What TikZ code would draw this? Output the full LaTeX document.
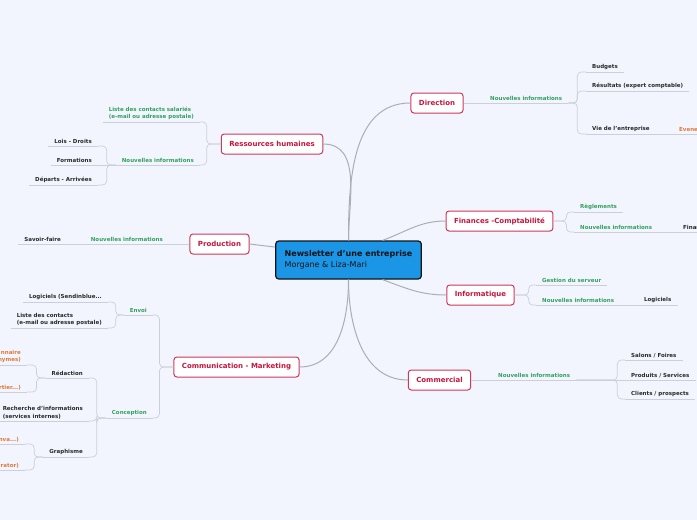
\documentclass[tikz,border=0pt]{standalone}
\usepackage{fontspec}
\setmainfont{DejaVu Sans}
\definecolor{Paper}{HTML}{F2F5FD}
\definecolor{HubBlue}{HTML}{1B95E5}
\definecolor{Ink}{HTML}{141414}
\definecolor{Crimson}{HTML}{C8143C}
\definecolor{LeafInk}{HTML}{2A2A2A}
\definecolor{Sage}{HTML}{34A060}
\definecolor{Amber}{HTML}{DE7A3A}
\definecolor{Spoke}{HTML}{ADADB6}
\definecolor{Twig}{HTML}{CDCFD8}
\tikzset{
  hub/.style={
    rounded corners=3pt, draw=Ink, line width=1.2pt, fill=HubBlue,
    text=Ink, align=left, inner xsep=9pt, minimum height=38pt,
    font=\fontsize{8}{11}\selectfont
  },
  branch/.style={
    rounded corners=3pt, draw=Crimson!85, line width=1pt, fill=white,
    text=Crimson, minimum height=20pt, inner xsep=8pt,
    font=\fontsize{7}{8}\selectfont\bfseries
  },
  twiglabel/.style={inner xsep=6pt, inner ysep=2pt,
    font=\fontsize{5.5}{7.5}\selectfont\bfseries},
  topic/.style={twiglabel, text=Sage},
  leaf/.style={twiglabel, text=LeafInk},
  aside/.style={twiglabel, text=Amber},
  spoke/.style={draw=Spoke, line width=1pt},
  twig/.style={draw=Twig, line width=0.7pt, rounded corners=4pt}
}

\begin{document}
\begin{tikzpicture}[x=1pt,y=-1pt]
    \path[use as bounding box] (0,0) rectangle (697,520);
    \clip (0,0) rectangle (697,520);
    \fill[Paper] (0,0) rectangle (697,520);

    \node[hub] (nl) at (348.5,260) {\textbf{Newsletter d'une entreprise}\\Morgane \& Liza-Mari};

    % right side
    \node[branch] (dir) at (437,103) {Direction};
    \node[topic,anchor=south west] (dirni) at (484,103) {Nouvelles informations};
    \node[leaf,anchor=south west] (budgets) at (586,72) {Budgets};
    \node[leaf,anchor=south west] (resultats) at (586,91) {Résultats (expert comptable)};
    \node[leaf,anchor=south west] (vie) at (586,134) {Vie de l'entreprise};
    \node[aside,anchor=south west] (evene) at (673,134) {Evene};

    \node[branch] (fin) at (499.5,221) {Finances -Comptabilité};
    \node[topic,anchor=south west] (regl) at (574,212) {Règlements};
    \node[topic,anchor=south west] (finni) at (574,232) {Nouvelles informations};
    \node[leaf,anchor=south west] (finan) at (677,232) {Finan};

    \node[branch] (info) at (480.5,295) {Informatique};
    \node[topic,anchor=south west] (gestion) at (536,285) {Gestion du serveur};
    \node[topic,anchor=south west] (infoni) at (536,305) {Nouvelles informations};
    \node[leaf,anchor=south west] (logiciels) at (638,305) {Logiciels};

    \node[branch] (com) at (439.5,380) {Commercial};
    \node[topic,anchor=south west] (comni) at (492,380) {Nouvelles informations};
    \node[leaf,anchor=south west] (salons) at (625,360) {Salons / Foires};
    \node[leaf,anchor=south west] (produits) at (625,380) {Produits / Services};
    \node[leaf,anchor=south west] (clients) at (625,399) {Clients / prospects};

    % left side
    \node[branch] (rh) at (272,144) {Ressources humaines};
    \node[topic,anchor=south east,align=left] (rhliste) at (200,122) {Liste des contacts salariés\\(e-mail ou adresse postale)};
    \node[topic,anchor=south east] (rhni) at (200,165) {Nouvelles informations};
    \node[leaf,anchor=south east] (lois) at (98,146) {Lois - Droits};
    \node[leaf,anchor=south east] (formations) at (98,165) {Formations};
    \node[leaf,anchor=south east] (departs) at (98,185) {Départs - Arrivées};

    \node[branch] (prod) at (219.5,244) {Production};
    \node[topic,anchor=south east] (prodni) at (169,244) {Nouvelles informations};
    \node[leaf,anchor=south east] (savoir) at (67,244) {Savoir-faire};

    \node[branch] (cm) at (236.5,367) {Communication - Marketing};
    \node[topic,anchor=south east] (envoi) at (153,315) {Envoi};
    \node[topic,anchor=south east] (conception) at (153,418) {Conception};
    \node[leaf,anchor=south east] (logenv) at (108,302) {Logiciels (Sendinblue...};
    \node[leaf,anchor=south east,align=left] (listenv) at (108,328) {Liste des contacts\\(e-mail ou adresse postale)};
    \node[leaf,anchor=south east] (redaction) at (89,378) {Rédaction};
    \node[leaf,anchor=south east,align=left] (recherche) at (89,421) {Recherche d'informations\\(services internes)};
    \node[leaf,anchor=south east] (graphisme) at (89,457) {Graphisme};
    \node[aside,anchor=south east,align=right] (redone) at (27,365) {nnaire\\nymes)};
    \node[aside,anchor=south east] (redtwo) at (27,392) {rtier...)};
    \node[aside,anchor=south east] (grone) at (25,444) {nva...)};
    \node[aside,anchor=south east] (grtwo) at (25,470) {rator)};

    % spokes from the centre
    \draw[spoke] (nl.north) to[out=90,in=0] (rh.east);
    \draw[spoke] (nl.north) to[out=90,in=180] (dir.west);
    \draw[spoke] (nl.30) to[out=20,in=180] (fin.west);
    \draw[spoke] (nl.-30) to[out=-20,in=180] (info.west);
    \draw[spoke] (nl.south) to[out=-90,in=180] (com.west);
    \draw[spoke] (nl.south) to[out=-90,in=0] (cm.east);
    \draw[spoke] (prod.east) -- (nl.170);

    % underlines
    \foreach \n in {dirni,budgets,resultats,vie,evene,regl,finni,finan,gestion,infoni,logiciels,
                    comni,salons,produits,clients,rhliste,rhni,lois,formations,departs,prodni,savoir,
                    envoi,conception,logenv,listenv,redaction,recherche,graphisme,redone,redtwo,grone,grtwo}
      \draw[twig] (\n.south west) -- (\n.south east);

    % twigs
    \draw[twig] (dir.east) -- (dirni.south west);
    \draw[twig] (dirni.south east) -- ++(9,0) |- (budgets.south west);
    \draw[twig] (dirni.south east) -- ++(9,0) |- (resultats.south west);
    \draw[twig] (dirni.south east) -- ++(9,0) |- (vie.south west);
    \draw[twig] (vie.south east) -- (evene.south west);

    \draw[twig] (fin.east) -- ++(13,0) |- (regl.south west);
    \draw[twig] (fin.east) -- ++(13,0) |- (finni.south west);
    \draw[twig] (finni.south east) -- (finan.south west);

    \draw[twig] (info.east) -- ++(14,0) |- (gestion.south west);
    \draw[twig] (info.east) -- ++(14,0) |- (infoni.south west);
    \draw[twig] (infoni.south east) -- (logiciels.south west);

    \draw[twig] (com.east) -- (comni.south west);
    \draw[twig] (comni.south east) -- ++(41,0) |- (salons.south west);
    \draw[twig] (comni.south east) -- (produits.south west);
    \draw[twig] (comni.south east) -- ++(41,0) |- (clients.south west);

    \draw[twig] (rh.west) -- ++(-14,0) |- (rhliste.south east);
    \draw[twig] (rh.west) -- ++(-14,0) |- (rhni.south east);
    \draw[twig] (rhni.south west) -- ++(-9,0) |- (lois.south east);
    \draw[twig] (rhni.south west) -- (formations.south east);
    \draw[twig] (rhni.south west) -- ++(-9,0) |- (departs.south east);

    \draw[twig] (prod.west) -- (prodni.south east);
    \draw[twig] (prodni.south west) -- (savoir.south east);

    \draw[twig] (cm.west) -- ++(-14,0) |- (envoi.south east);
    \draw[twig] (cm.west) -- ++(-14,0) |- (conception.south east);
    \draw[twig] (envoi.south west) -- ++(-8,0) |- (logenv.south east);
    \draw[twig] (envoi.south west) -- ++(-8,0) |- (listenv.south east);
    \draw[twig] (conception.south west) -- ++(-9,0) |- (redaction.south east);
    \draw[twig] (conception.south west) -- ++(-9,0) |- (recherche.south east);
    \draw[twig] (conception.south west) -- ++(-9,0) |- (graphisme.south east);
    \draw[twig] (redaction.south west) -- ++(-9,0) |- (redone.south east);
    \draw[twig] (redaction.south west) -- ++(-9,0) |- (redtwo.south east);
    \draw[twig] (graphisme.south west) -- ++(-9,0) |- (grone.south east);
    \draw[twig] (graphisme.south west) -- ++(-9,0) |- (grtwo.south east);
\end{tikzpicture}
\end{document}
